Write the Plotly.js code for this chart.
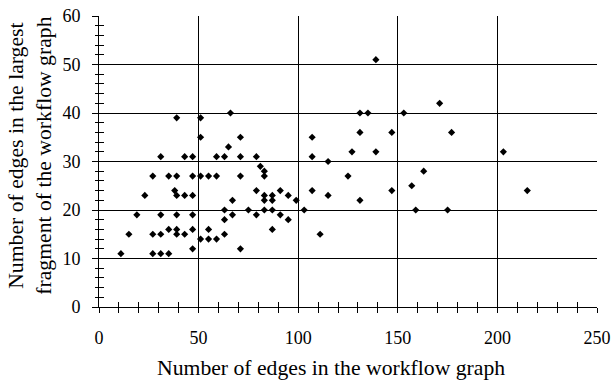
<!DOCTYPE html>
<html>
<head>
<meta charset="utf-8">
<script src="https://cdn.plot.ly/plotly-3.0.1.min.js"></script>
<style>html,body{margin:0;padding:0;background:#fff;}#chart{width:613px;height:383px;}</style>
</head>
<body>
<div id="chart"></div>
<script>
// Number of edges in the workflow graph
const edgesTotal = [11,15,19,23,27,27,27,31,31,31,31,35,35,35,38,39,39,39,39,39,39,43,43,43,47,47,47,47,47,47,51,51,51,51,55,55,55,59,59,59,63,63,63,63,65,66,67,67,71,71,71,71,75,79,79,79,81,83,83,83,83,83,87,87,87,87,91,91,95,95,99,103,107,107,107,111,115,115,125,127,131,131,131,135,139,139,147,147,153,157,159,163,171,175,177,203,215];
// Number of edges in the largest fragment
const edgesLargest = [11,15,19,23,27,15,11,31,19,15,11,27,16,11,24,39,27,23,19,16,15,31,23,15,31,27,23,19,16,12,39,35,27,14,27,16,14,31,27,14,31,20,18,15,33,40,22,19,35,31,27,12,20,31,24,19,29,28,27,23,22,20,23,22,20,16,24,19,23,18,22,20,35,31,24,15,30,23,27,32,40,36,22,40,51,32,36,24,40,25,20,28,42,20,36,32,24];
const xTicks = [0,50,100,150,200,250];
const yTicks = [0,10,20,30,40,50,60];
const xTitle = 'Number of edges in the workflow graph';
const yTitle = 'Number of edges in the largest<br>fragment of the workflow graph';

const fam = 'Liberation Serif, Times New Roman, serif';
const tickFont = {family: fam, size: 18, color: '#000'};
const titleFont = {family: fam, size: 21.7, color: '#000'};

const traces = [
  {x: edgesTotal, y: edgesLargest, type: 'scatter', mode: 'markers',
   marker: {symbol: 'diamond', size: 5.5, color: '#000'}, hoverinfo: 'skip', xaxis: 'x', yaxis: 'y'},
  {x: edgesTotal, y: edgesLargest, type: 'scatter', mode: 'markers',
   marker: {symbol: 'diamond', size: 5.5, color: '#000', opacity: 0}, hoverinfo: 'skip', xaxis: 'x2', yaxis: 'y2', showlegend: false}
];

const layout = {
  width: 613, height: 383,
  margin: {l: 99, r: 16, t: 16, b: 76},
  paper_bgcolor: '#fff', plot_bgcolor: '#fff',
  showlegend: false,
  font: tickFont,
  xaxis: {
    range: [0, 250], tickvals: xTicks, ticktext: xTicks.map(String),
    showgrid: true, gridcolor: '#000', gridwidth: 1,
    showline: true, linecolor: '#000', linewidth: 1,
    ticks: 'outside', ticklen: 5, tickcolor: '#000',
    minor: {dtick: 10, ticks: 'outside', ticklen: 5, tickcolor: '#000', showgrid: false},
    zeroline: false, tickfont: tickFont, ticklabelstandoff: 9,
    fixedrange: true
  },
  yaxis: {
    range: [0, 60], tickvals: yTicks, ticktext: yTicks.map(String),
    showgrid: true, gridcolor: '#000', gridwidth: 1,
    showline: true, linecolor: '#000', linewidth: 1,
    ticks: 'outside', ticklen: 6, tickcolor: '#000',
    minor: {dtick: 2, ticks: 'outside', ticklen: 3, tickcolor: '#000', showgrid: false},
    zeroline: false, tickfont: tickFont, ticklabelstandoff: 8,
    fixedrange: true
  },
  xaxis2: {
    overlaying: 'x', anchor: 'y2', range: [0, 250], tickvals: xTicks,
    showticklabels: false, showgrid: false, zeroline: false, showline: false,
    ticks: 'inside', ticklen: 5, tickcolor: '#000',
    minor: {dtick: 10, ticks: 'inside', ticklen: 5, tickcolor: '#000', showgrid: false},
    fixedrange: true
  },
  yaxis2: {
    overlaying: 'y', anchor: 'x2', range: [0, 60], tickvals: yTicks,
    showticklabels: false, showgrid: false, zeroline: false, showline: false,
    ticks: 'inside', ticklen: 6, tickcolor: '#000',
    minor: {dtick: 2, ticks: 'inside', ticklen: 5, tickcolor: '#000', showgrid: false},
    fixedrange: true
  },
  annotations: [
    {text: xTitle, font: titleFont, xref: 'paper', yref: 'paper', x: 0.466, y: -0.21,
     xanchor: 'center', yanchor: 'middle', showarrow: false},
    {text: yTitle, font: titleFont, xref: 'paper', yref: 'paper', x: -0.139, y: 0.519,
     xanchor: 'center', yanchor: 'middle', showarrow: false, textangle: -90}
  ]
};

Plotly.newPlot('chart', traces, layout, {staticPlot: true, displayModeBar: false});
</script>
</body>
</html>
